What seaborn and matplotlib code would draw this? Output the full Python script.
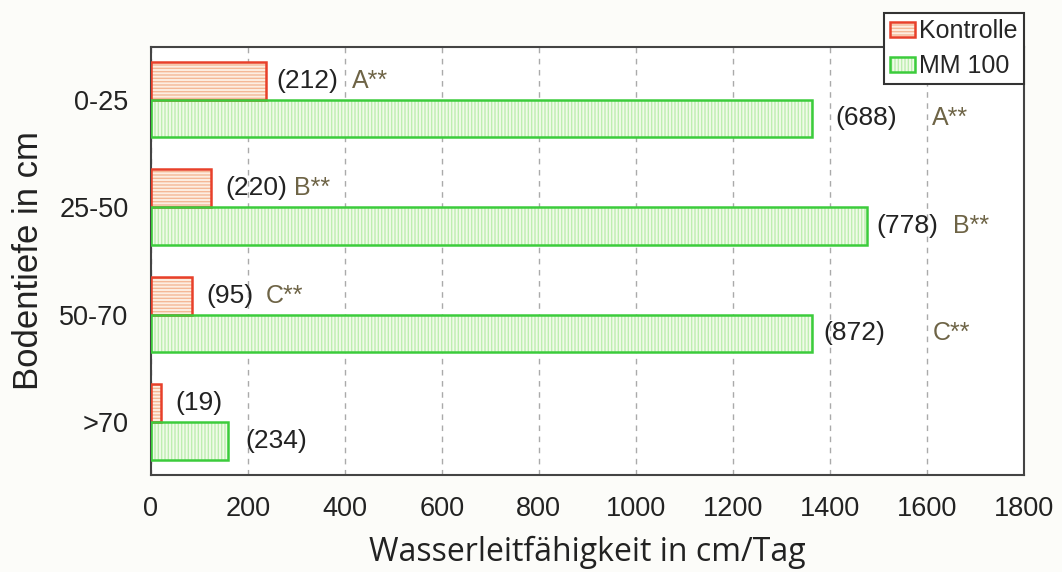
import numpy as np
import pandas as pd
import seaborn as sns
import matplotlib.pyplot as plt
from matplotlib.patches import Patch, Rectangle

# data
depths = ["0-25", "25-50", "50-70", ">70"]
kontrolle = [237, 125, 84, 21]
mm100 = [1364, 1477, 1364, 160]
groups = ["Kontrolle", "MM 100"]

# annotation texts and their x positions (cm/Tag)
kontrolle_labels = ["(212)", "(220)", "(95)", "(19)"]
kontrolle_label_x = [258, 154, 115, 51]
kontrolle_sig = ["A**", "B**", "C**", ""]
kontrolle_sig_x = [414, 295, 238, 0]
mm100_labels = ["(688)", "(778)", "(872)", "(234)"]
mm100_label_x = [1411, 1497, 1386, 195]
mm100_sig = ["A**", "B**", "C**", ""]
mm100_sig_x = [1610, 1654, 1612, 0]

df = pd.DataFrame({
    "Tiefe": depths * 2,
    "Wert": kontrolle + mm100,
    "Gruppe": [groups[0]] * 4 + [groups[1]] * 4,
})

sns.set_style("white")
plt.rcParams['font.family'] = ['Liberation Sans', 'DejaVu Sans']
plt.rcParams['hatch.linewidth'] = 1.0

# fill, hatch colour, edge colour, hatch pattern
styles = {
    "Kontrolle": ("#fdeee2", "#f4b896", "#e8402a", "-----"),
    "MM 100": ("#f0fbe8", "#bdeeb0", "#3ccc3c", "|||||"),
}

fig = plt.figure(figsize=(10.62, 5.72), dpi=100, facecolor="#fcfcf9")
ax = fig.add_axes([0.142, 0.170, 0.822, 0.748])
ax.set_facecolor("#ffffff")

sns.barplot(data=df, x="Wert", y="Tiefe", hue="Gruppe", order=depths,
            hue_order=groups, orient="h", width=0.7, ax=ax, legend=False,
            zorder=2)

for cont, g in zip(ax.containers, groups):
    fc, hc, ec, hatch = styles[g]
    for p in cont.patches:
        p.set_facecolor(fc)
        p.set_edgecolor(hc)
        p.set_hatch(hatch)
        p.set_linewidth(0)
        ax.add_patch(Rectangle(p.get_xy(), p.get_width(), p.get_height(),
                               fill=False, edgecolor=ec, linewidth=1.8, zorder=3))

# value labels
def annotate(cont, labels, lx, sig, sx):
    for p, lab, x, s, x2 in zip(cont.patches, labels, lx, sig, sx):
        yc = p.get_y() + p.get_height() / 2
        ax.text(x, yc, lab, ha="left", va="center", fontsize=19, color="#222222", zorder=4)
        if s:
            ax.text(x2, yc, s, ha="left", va="center", fontsize=18, color="#6e6446", zorder=4)

annotate(ax.containers[0], kontrolle_labels, kontrolle_label_x, kontrolle_sig, kontrolle_sig_x)
annotate(ax.containers[1], mm100_labels, mm100_label_x, mm100_sig, mm100_sig_x)

ax.set_xlim(0, 1800)
ax.set_ylim(3.49, -0.49)
ax.set_xticks(np.arange(0, 1801, 200))
ax.xaxis.grid(True, linestyle=(0, (4, 4)), color="#aaaaaa", linewidth=1.0)
ax.set_axisbelow(True)
ax.tick_params(axis="both", length=0, labelsize=19.5, labelcolor="#222222")
ax.tick_params(axis="x", pad=15)
ax.tick_params(axis="y", pad=16)
for s in ax.spines.values():
    s.set_color("#444444")
    s.set_linewidth(1.5)

ax.set_xlabel("Wasserleitfähigkeit in cm/Tag", fontsize=23, family=["Open Sans", "DejaVu Sans"],
              color="#222222", labelpad=10)
ax.set_ylabel("Bodentiefe in cm", fontsize=25, color="#222222", labelpad=10)

handles = []
for g in groups:
    fc, hc, ec, hatch = styles[g]
    handles.append((Patch(facecolor=fc, edgecolor=hc, hatch=hatch, linewidth=0),
                    Patch(fill=False, edgecolor=ec, linewidth=1.8)))
leg = ax.legend(handles, groups, loc="upper right", bbox_to_anchor=(1.0, 1.08),
                borderaxespad=0, fontsize=18, frameon=True, fancybox=False,
                edgecolor="#333333", framealpha=1, handlelength=1.0, handleheight=0.55,
                handletextpad=0.15, labelspacing=0.45, borderpad=0.25)
leg.get_frame().set_linewidth(1.5)
leg.set_zorder(5)

fig.savefig("out.png", dpi=100, facecolor=fig.get_facecolor())
